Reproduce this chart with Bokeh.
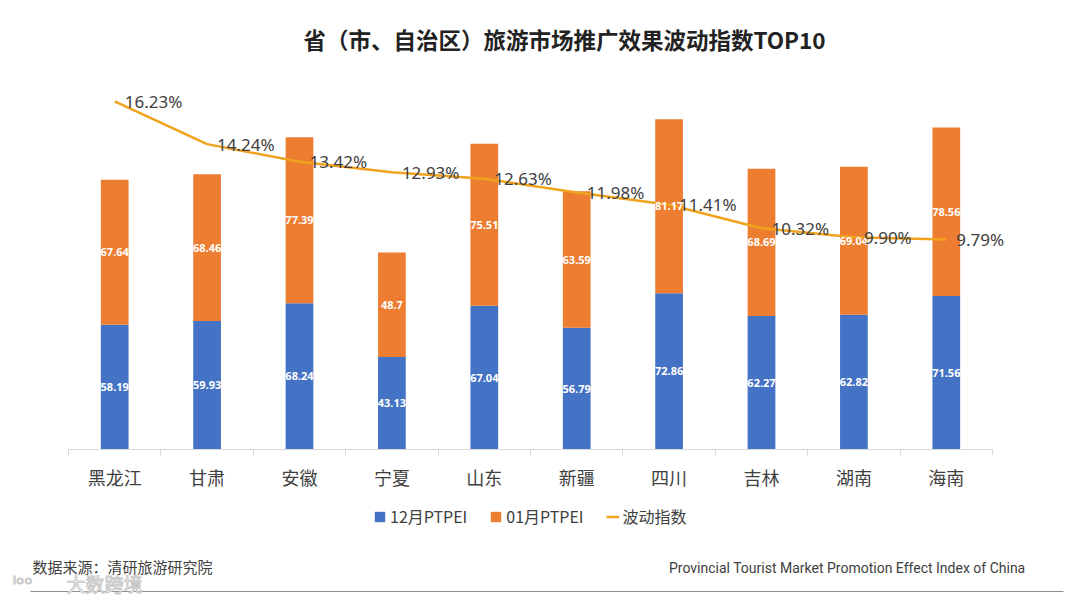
from bokeh.plotting import figure
from bokeh.models import (Range1d, LinearAxis, FixedTicker, ColumnDataSource, LabelSet,
                          Label, Legend, LegendItem, BoxAnnotation)
from bokeh.core.properties import value
from bokeh.embed import file_html
from bokeh.resources import INLINE

provinces = ["黑龙江", "甘肃", "安徽", "宁夏", "山东", "新疆", "四川", "吉林", "湖南", "海南"]
dec_ptpei = [58.19, 59.93, 68.24, 43.13, 67.04, 56.79, 72.86, 62.27, 62.82, 71.56]
jan_ptpei = [67.64, 68.46, 77.39, 48.7, 75.51, 63.59, 81.17, 68.69, 69.04, 78.56]
volatility = [16.23, 14.24, 13.42, 12.93, 12.63, 11.98, 11.41, 10.32, 9.90, 9.79]

CJK = "Noto Sans CJK SC"
BLUE = "#4472C4"
ORANGE = "#ED7D31"
GOLD = "#F0A31C"
TXT = "#404040"

W, H = 1080, 608
# plot-area geometry (pixels): category band and value axis span
X0, X1 = 68, 992       # left/right of category axis
Y0, Y1 = 449, 63       # pixel rows of value 0 and of value max
VMAX, PMAX = 180, 18   # value-axis maxima (bars, percent line)

n = len(provinces)
xs = [i + 0.5 for i in range(n)]
upx = n / (X1 - X0)
vpx = VMAX / (Y0 - Y1)
x_range = Range1d(-X0 * upx, (W - X0) * upx)
y_range = Range1d(-(H - Y0) * vpx, VMAX + Y1 * vpx)
pct_range = Range1d(-(H - Y0) * vpx * PMAX / VMAX, PMAX + Y1 * vpx * PMAX / VMAX)

src = ColumnDataSource(dict(
    x=xs, dec=dec_ptpei, jan=jan_ptpei, vol=volatility,
    dec_mid=[d / 2 for d in dec_ptpei],
    jan_mid=[d + j / 2 for d, j in zip(dec_ptpei, jan_ptpei)],
    dec_txt=[f"{d:g}" for d in dec_ptpei],
    jan_txt=[f"{j:g}" for j in jan_ptpei],
    vol_txt=[f"{v:.2f}%" for v in volatility],
))

p = figure(width=W, height=H, output_backend="svg", toolbar_location=None,
           x_range=x_range, y_range=y_range,
           y_axis_location=None, x_axis_location=None,
           min_border=0, min_border_left=0, min_border_right=0,
           min_border_top=0, min_border_bottom=0)
p.extra_y_ranges = {"pct": pct_range}
p.xgrid.visible = False
p.ygrid.visible = False
p.outline_line_color = None
p.background_fill_color = "white"
p.border_fill_color = "white"

xaxis = LinearAxis(ticker=FixedTicker(ticks=xs, minor_ticks=list(range(n + 1))),
                   bounds=(0, n), fixed_location=0)
xaxis.major_label_overrides = {x: name for x, name in zip(xs, provinces)}
xaxis.major_label_text_font = CJK
xaxis.major_label_text_font_size = "18px"
xaxis.major_label_text_color = TXT
xaxis.major_label_standoff = 8
xaxis.major_tick_line_color = None
xaxis.major_tick_out = 0
xaxis.major_tick_in = 0
xaxis.minor_tick_line_color = "#d9d9d9"
xaxis.minor_tick_out = 6
xaxis.minor_tick_in = 0
xaxis.axis_line_color = "#d9d9d9"
p.add_layout(xaxis, "below")

bars = p.vbar_stack(["dec", "jan"], x="x", width=0.3, source=src,
                    color=[BLUE, ORANGE], line_color=None)

line = p.line("x", "vol", source=src, y_range_name="pct", line_color=GOLD, line_width=2.5)

p.text("x", "dec_mid", text="dec_txt", source=src, text_align="center", text_baseline="middle",
       text_color="white", text_font=value("Noto Sans"), text_font_size="11px", text_font_style="bold")
p.text("x", "jan_mid", text="jan_txt", source=src, text_align="center", text_baseline="middle",
       text_color="white", text_font=value("Noto Sans"), text_font_size="11px", text_font_style="bold")

p.add_layout(LabelSet(x="x", y="vol", text="vol_txt", source=src, y_range_name="pct",
                      x_offset=10, y_offset=0, text_baseline="middle", text_align="left",
                      text_color=TXT, text_font=value("Noto Sans"), text_font_size="17px"))

legend = Legend(items=[LegendItem(label="12月PTPEI", renderers=[bars[0]]),
                       LegendItem(label="01月PTPEI", renderers=[bars[1]]),
                       LegendItem(label="波动指数", renderers=[line])],
                orientation="horizontal", location=(373, 80),
                label_text_font=CJK, label_text_font_size="16px", label_text_color=TXT,
                glyph_width=13, glyph_height=13, label_standoff=4, spacing=22,
                padding=0, margin=0, border_line_color=None, background_fill_alpha=0)
p.add_layout(legend, "center")

# screen units below are measured from the bottom-left corner of the canvas
p.add_layout(Label(x=564, y=H - 38, x_units="screen", y_units="screen",
                   text="省（市、自治区）旅游市场推广效果波动指数TOP10",
                   text_font=CJK, text_font_size="22.5px", text_font_style="bold",
                   text_color="#222222", text_align="center", text_baseline="middle"))
p.add_layout(Label(x=32, y=H - 566, x_units="screen", y_units="screen",
                   text="数据来源：清研旅游研究院", text_font=CJK, text_font_size="15px",
                   text_color=TXT, text_align="left", text_baseline="middle"))
p.add_layout(Label(x=1025, y=H - 567, x_units="screen", y_units="screen",
                   text="Provincial Tourist Market Promotion Effect Index of China",
                   text_font="Roboto", text_font_size="14px",
                   text_color=TXT, text_align="right", text_baseline="middle"))
p.add_layout(BoxAnnotation(left=30, right=1063, bottom=H - 591.5, top=H - 590.5,
                           left_units="screen", right_units="screen",
                           bottom_units="screen", top_units="screen",
                           fill_color="#8c8c8c", fill_alpha=1, line_color=None))
p.add_layout(Label(x=12, y=H - 583, x_units="screen", y_units="screen",
                   text="ᑊᵒᵒ", text_font="DejaVu Sans", text_font_size="20px",
                   text_color="#ffffff", text_outline_color="#c8c8c8",
                   text_align="left", text_baseline="middle"))
p.add_layout(Label(x=66, y=H - 583, x_units="screen", y_units="screen",
                   text="大数跨境", text_font=CJK, text_font_size="19px",
                   text_color="#ffffff", text_outline_color="#c8c8c8",
                   text_align="left", text_baseline="middle"))

open("out.html", "w").write(file_html(p, INLINE))
